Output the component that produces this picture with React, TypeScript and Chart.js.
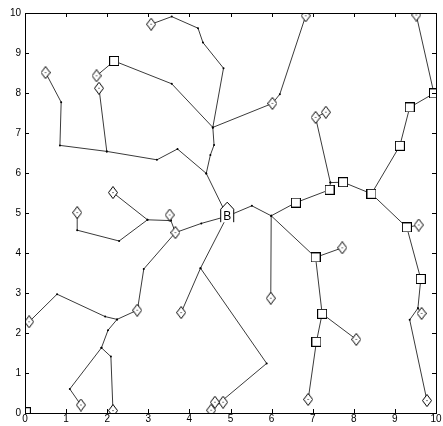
import React, { useEffect, useRef } from "react";
import { Chart, registerables } from "chart.js";

Chart.register(...registerables);

type P = [number, number];

// Root node "B"
const rootNode: P = [4.92, 4.92];

// Branches (polylines through the tree)
const branch1: P[] = [[0.5, 8.51], [0.88, 7.77], [0.85, 6.69], [1.99, 6.54], [3.21, 6.33], [3.71, 6.6], [4.41, 5.99], [4.92, 4.92]];
const branch2: P[] = [[1.8, 8.12], [1.99, 6.54]];
const branch3: P[] = [[1.74, 8.43], [2.17, 8.8], [3.57, 8.23], [4.57, 7.14]];
const branch4: P[] = [[3.07, 9.72], [3.57, 9.91], [4.21, 9.62], [4.33, 9.26], [4.83, 8.62], [4.57, 7.14], [4.6, 6.7], [4.51, 6.45], [4.41, 5.99]];
const branch5: P[] = [[4.57, 7.14], [6.02, 7.74], [6.2, 7.97], [6.83, 9.93]];
const branch6: P[] = [[4.92, 4.92], [5.52, 5.18], [5.99, 4.93], [6.59, 5.26], [7.41, 5.58], [7.43, 5.76], [7.74, 5.77], [8.43, 5.48], [9.12, 6.68], [9.36, 7.64], [9.95, 7.99], [9.52, 9.95]];
const branch7: P[] = [[7.32, 7.52], [7.07, 7.39], [7.43, 5.76]];
const branch8: P[] = [[8.43, 5.48], [9.29, 4.64], [9.58, 4.7]];
const branch9: P[] = [[9.29, 4.64], [9.63, 3.35], [9.56, 2.62], [9.65, 2.49]];
const branch10: P[] = [[9.56, 2.62], [9.36, 2.33], [9.78, 0.31]];
const branch11: P[] = [[5.99, 4.93], [5.98, 2.87]];
const branch12: P[] = [[5.99, 4.93], [7.07, 3.89], [7.72, 4.13]];
const branch13: P[] = [[7.07, 3.89], [7.23, 2.48], [8.06, 1.84]];
const branch14: P[] = [[7.23, 2.48], [7.09, 1.78], [6.89, 0.34]];
const branch15: P[] = [[4.92, 4.92], [4.27, 3.62], [3.8, 2.51]];
const branch16: P[] = [[4.27, 3.62], [5.88, 1.24], [4.74, 0.26], [4.82, 0.27]];
const branch16b: P[] = [[4.62, 0.27], [4.74, 0.26], [4.53, 0.07]];
const branch17: P[] = [[4.92, 4.92], [4.29, 4.74], [3.66, 4.51], [3.55, 4.81], [3.52, 4.95]];
const branch18: P[] = [[3.55, 4.81], [2.98, 4.83], [2.29, 4.3], [1.27, 4.57], [1.27, 5.01]];
const branch19: P[] = [[2.98, 4.83], [2.14, 5.51]];
const branch20: P[] = [[3.66, 4.51], [2.89, 3.6], [2.75, 2.67], [2.73, 2.57], [2.24, 2.34], [1.95, 2.41], [0.78, 2.97], [0.1, 2.28]];
const branch21: P[] = [[2.24, 2.34], [2.02, 2.07], [1.86, 1.63], [2.09, 1.41], [2.14, 0.06]];
const branch22: P[] = [[1.86, 1.63], [1.09, 0.6], [1.36, 0.2]];

const branches: P[][] = [branch1, branch2, branch3, branch4, branch5, branch6, branch7, branch8, branch9, branch10, branch11, branch12, branch13, branch14, branch15, branch16, branch16b, branch17, branch18, branch19, branch20, branch21, branch22];

// Leaf nodes (diamonds)
const diamondNodes: P[] = [
  [0.5, 8.51], [1.8, 8.12], [1.74, 8.43], [3.07, 9.72], [6.02, 7.74], [6.83, 9.93], [9.52, 9.95],
  [7.07, 7.39], [7.32, 7.52], [9.58, 4.7], [9.65, 2.49], [9.78, 0.31], [5.98, 2.87], [7.72, 4.13],
  [8.06, 1.84], [6.89, 0.34], [3.8, 2.51], [4.82, 0.27], [4.62, 0.27], [4.53, 0.07], [3.52, 4.95],
  [3.66, 4.51], [1.27, 5.01], [2.14, 5.51], [2.73, 2.57], [0.1, 2.28], [2.14, 0.06], [1.36, 0.2],
];

// Relay nodes (squares)
const squareNodes: P[] = [
  [2.17, 8.8], [6.59, 5.26], [7.41, 5.58], [7.74, 5.77], [8.43, 5.48], [9.12, 6.68], [9.36, 7.64],
  [9.95, 7.99], [9.29, 4.64], [9.63, 3.35], [7.07, 3.89], [7.23, 2.48], [7.09, 1.78], [0.02, 0.02],
];

const tickValues = [0, 1, 2, 3, 4, 5, 6, 7, 8, 9, 10];

function makeDiamond(): HTMLCanvasElement {
  const c = document.createElement("canvas");
  c.width = 10;
  c.height = 13;
  const g = c.getContext("2d")!;
  g.beginPath();
  g.moveTo(5, 0.5);
  g.lineTo(9.5, 6.5);
  g.lineTo(5, 12.5);
  g.lineTo(0.5, 6.5);
  g.closePath();
  g.fillStyle = "#fff";
  g.fill();
  g.strokeStyle = "#000";
  g.lineWidth = 1;
  g.stroke();
  g.fillStyle = "#000";
  g.fillRect(4.5, 6, 1, 1);
  return c;
}

function makeSquare(): HTMLCanvasElement {
  const c = document.createElement("canvas");
  c.width = 10;
  c.height = 10;
  const g = c.getContext("2d")!;
  g.fillStyle = "#fff";
  g.fillRect(0.5, 0.5, 9, 9);
  g.strokeStyle = "#000";
  g.lineWidth = 1;
  g.strokeRect(0.5, 0.5, 9, 9);
  return c;
}

const framePlugin = {
  id: "frame",
  afterDraw(chart: any) {
    const { ctx, chartArea, scales } = chart;
    const { left, right, top, bottom } = chartArea;
    ctx.save();
    ctx.strokeStyle = "#000";
    ctx.lineWidth = 1;
    ctx.strokeRect(Math.round(left) + 0.5, Math.round(top) + 0.5, Math.round(right - left), Math.round(bottom - top));
    const L = 4;
    ctx.beginPath();
    for (const v of tickValues) {
      const px = Math.round(scales.x.getPixelForValue(v)) + 0.5;
      ctx.moveTo(px, bottom);
      ctx.lineTo(px, bottom - L);
      ctx.moveTo(px, top);
      ctx.lineTo(px, top + L);
      const py = Math.round(scales.y.getPixelForValue(v)) + 0.5;
      ctx.moveTo(left, py);
      ctx.lineTo(left + L, py);
      ctx.moveTo(right, py);
      ctx.lineTo(right - L, py);
    }
    ctx.stroke();

    // Root "B" marker
    const cx = scales.x.getPixelForValue(rootNode[0]);
    const cy = scales.y.getPixelForValue(rootNode[1]);
    const hw = 6.5;
    ctx.beginPath();
    ctx.moveTo(cx - hw, cy + 6);
    ctx.lineTo(cx - hw, cy - 7);
    ctx.lineTo(cx, cy - 14);
    ctx.lineTo(cx + hw, cy - 7);
    ctx.lineTo(cx + hw, cy + 6);
    ctx.fillStyle = "#fff";
    ctx.fill();
    ctx.stroke();
    ctx.fillStyle = "#000";
    ctx.font = "12px 'Liberation Sans', Arial, sans-serif";
    ctx.textAlign = "center";
    ctx.textBaseline = "middle";
    ctx.fillText("B", cx, cy);
    ctx.restore();
  },
};

export default function App() {
  const ref = useRef<HTMLCanvasElement>(null);
  useEffect(() => {
    document.body.style.margin = "0";
    const diamond = makeDiamond();
    const square = makeSquare();
    const toXY = (a: P[]) => a.map(([x, y]) => ({ x, y }));
    const datasets: any[] = [
      {
        data: toXY(squareNodes),
        pointStyle: square,
        showLine: false,
        order: 0,
      },
      {
        data: toXY(diamondNodes),
        pointStyle: diamond,
        showLine: false,
        order: 1,
      },
      ...branches.map((b) => ({
        data: toXY(b),
        showLine: true,
        borderColor: "#3a3a3a",
        borderWidth: 1,
        pointRadius: 1,
        pointBackgroundColor: "#000",
        pointBorderWidth: 0,
        order: 2,
      })),
    ];
    const chart = new Chart(ref.current!, {
      type: "scatter",
      data: { datasets },
      options: {
        animation: false,
        responsive: false,
        maintainAspectRatio: false,
        layout: { padding: { top: 13, right: 7, left: 0, bottom: 0 } },
        plugins: { legend: { display: false }, tooltip: { enabled: false } },
        elements: { line: { tension: 0 } },
        scales: {
          x: {
            type: "linear",
            min: 0,
            max: 10,
            grid: { display: false, drawTicks: false },
            border: { display: false },
            afterFit: (s: any) => { s.height = 13; },
            ticks: {
              stepSize: 1,
              padding: 0,
              color: "#000",
              font: { size: 10, family: "'Liberation Sans', Arial, sans-serif" },
            },
          },
          y: {
            type: "linear",
            min: 0,
            max: 10,
            grid: { display: false, drawTicks: false },
            border: { display: false },
            afterFit: (s: any) => { s.width = 25; },
            ticks: {
              stepSize: 1,
              padding: 4,
              color: "#000",
              font: { size: 10, family: "'Liberation Sans', Arial, sans-serif" },
            },
          },
        },
      },
      plugins: [framePlugin],
    });
    return () => chart.destroy();
  }, []);
  return (
    <div style={{ position: "absolute", left: 0, top: 0, width: 443, height: 426 }}>
      <canvas ref={ref} width={443} height={426} style={{ width: 443, height: 426 }} />
    </div>
  );
}
